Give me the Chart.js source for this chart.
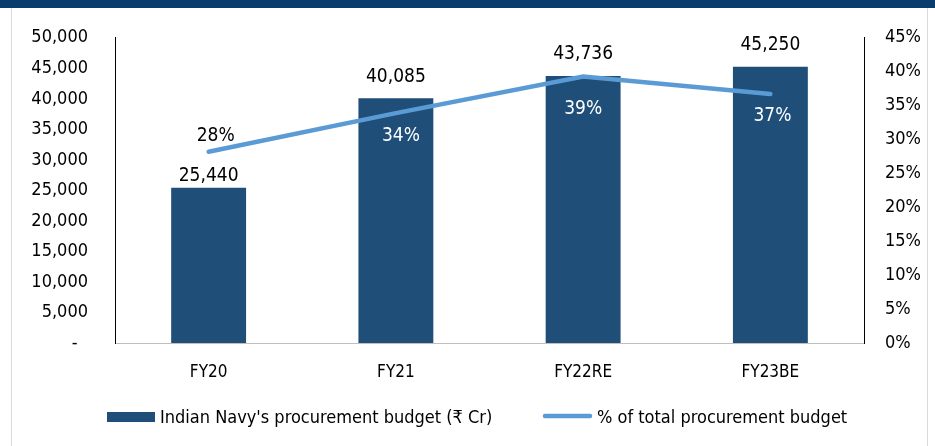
<!DOCTYPE html>
<html>
<head>
<meta charset="utf-8">
<script src="https://cdn.jsdelivr.net/npm/chart.js@4.4.0/dist/chart.umd.min.js"></script>
<style>
    body { margin: 0; background: #fff; }
    #wrap { position: relative; width: 935px; height: 446px; overflow: hidden; }
    #band { position: absolute; left: 0; top: 0; width: 935px; height: 8px; background: #0b3a6c; }
    #frame { position: absolute; left: 11px; top: 8px; width: 915px; height: 438px; border-left: 1px solid #d9d9d9; border-right: 1px solid #d9d9d9; }
    canvas { position: absolute; left: 0; top: 0; }
</style>
</head>
<body>
<div id="wrap">
    <div id="band"></div>
    <div id="frame"></div>
    <canvas id="myChart" width="935" height="446"></canvas>
</div>
<script>
const categories = ['FY20', 'FY21', 'FY22RE', 'FY23BE'];
const budgetValues = [25440, 40085, 43736, 45250];   // ₹ Cr
const shareValues = [28.2, 33.9, 39.3, 36.7];        // % of total procurement budget
const shareLabels = ['28%', '34%', '39%', '37%'];

const FONT = '"DejaVu Sans Condensed", "Liberation Sans Narrow", sans-serif';
const barColor = '#1f4e79';
const lineColor = '#5b9bd5';

// where each data label sits relative to its mark
const barLabelShift = [-12, -21, -22, -22];
const lineLabelShift = [[7, -16], [5, 23], [0, 33], [2, 22]];
const lineLabelColor = ['#000', '#fff', '#fff', '#fff'];

const valueLabels = {
    id: 'valueLabels',
    afterDatasetsDraw(chart) {
        const ctx = chart.ctx;
        ctx.save();
        ctx.font = '19px ' + FONT;
        ctx.textAlign = 'center';
        ctx.textBaseline = 'middle';
        chart.getDatasetMeta(0).data.forEach(function (bar, i) {
            ctx.fillStyle = '#000';
            ctx.fillText(budgetValues[i].toLocaleString('en-US'), bar.x, bar.y + barLabelShift[i]);
        });
        chart.getDatasetMeta(1).data.forEach(function (pt, i) {
            ctx.fillStyle = lineLabelColor[i];
            ctx.fillText(shareLabels[i], pt.x + lineLabelShift[i][0], pt.y + lineLabelShift[i][1]);
        });
        ctx.restore();
    }
};

const bottomLegend = {
    id: 'bottomLegend',
    afterDraw(chart) {
        const ctx = chart.ctx;
        const ds = chart.data.datasets;
        ctx.save();
        ctx.font = '18px ' + FONT;
        ctx.textBaseline = 'middle';
        ctx.fillStyle = ds[0].backgroundColor;
        ctx.fillRect(107, 412, 48, 10);
        ctx.fillStyle = '#000';
        ctx.fillText(ds[0].label, 160, 418);

        ctx.strokeStyle = ds[1].borderColor;
        ctx.lineWidth = 4.5;
        ctx.lineCap = 'round';
        ctx.beginPath();
        ctx.moveTo(545, 416);
        ctx.lineTo(590, 416);
        ctx.stroke();
        ctx.fillText(ds[1].label, 597, 418);
        ctx.restore();
    }
};

const ctx = document.getElementById('myChart').getContext('2d');
const myChart = new Chart(ctx, {
    data: {
        labels: categories,
        datasets: [
            {
                type: 'bar',
                label: "Indian Navy's procurement budget (₹ Cr)",
                data: budgetValues,
                backgroundColor: barColor,
                yAxisID: 'y',
                categoryPercentage: 1.0,
                barPercentage: 0.4,
                order: 2
            },
            {
                type: 'line',
                label: '% of total procurement budget',
                data: shareValues,
                borderColor: lineColor,
                backgroundColor: lineColor,
                borderWidth: 4.5,
                borderCapStyle: 'round',
                pointRadius: 0,
                tension: 0,
                fill: false,
                yAxisID: 'y1',
                order: 1
            }
        ]
    },
    options: {
        responsive: false,
        animation: false,
        layout: { padding: { top: 33, left: 0, right: 0, bottom: 0 } },
        plugins: {
            legend: { display: false },
            tooltip: { enabled: false }
        },
        scales: {
            x: {
                grid: { display: false, drawTicks: false },
                border: { display: true, color: '#bfbfbf', width: 1 },
                ticks: { color: '#000', padding: 19, font: { family: FONT, size: 17 } },
                afterFit(scale) { scale.height = 103; }
            },
            y: {
                position: 'left',
                min: 0,
                max: 50000,
                grid: { display: false, drawTicks: false },
                border: { display: true, color: '#000', width: 1 },
                ticks: {
                    stepSize: 5000,
                    color: '#000',
                    padding: 27,
                    font: { family: FONT, size: 18 },
                    callback: function (v) { return v === 0 ? '-  ' : v.toLocaleString('en-US'); }
                },
                afterFit(scale) { scale.width = 115; }
            },
            y1: {
                position: 'right',
                min: 0,
                max: 45,
                grid: { display: false, drawTicks: false },
                border: { display: true, color: '#000', width: 1 },
                ticks: {
                    stepSize: 5,
                    color: '#000',
                    padding: 21,
                    font: { family: FONT, size: 18 },
                    callback: function (v) { return v + '%'; }
                },
                afterFit(scale) { scale.width = 71; }
            }
        }
    },
    plugins: [valueLabels, bottomLegend]
});
</script>
</body>
</html>
